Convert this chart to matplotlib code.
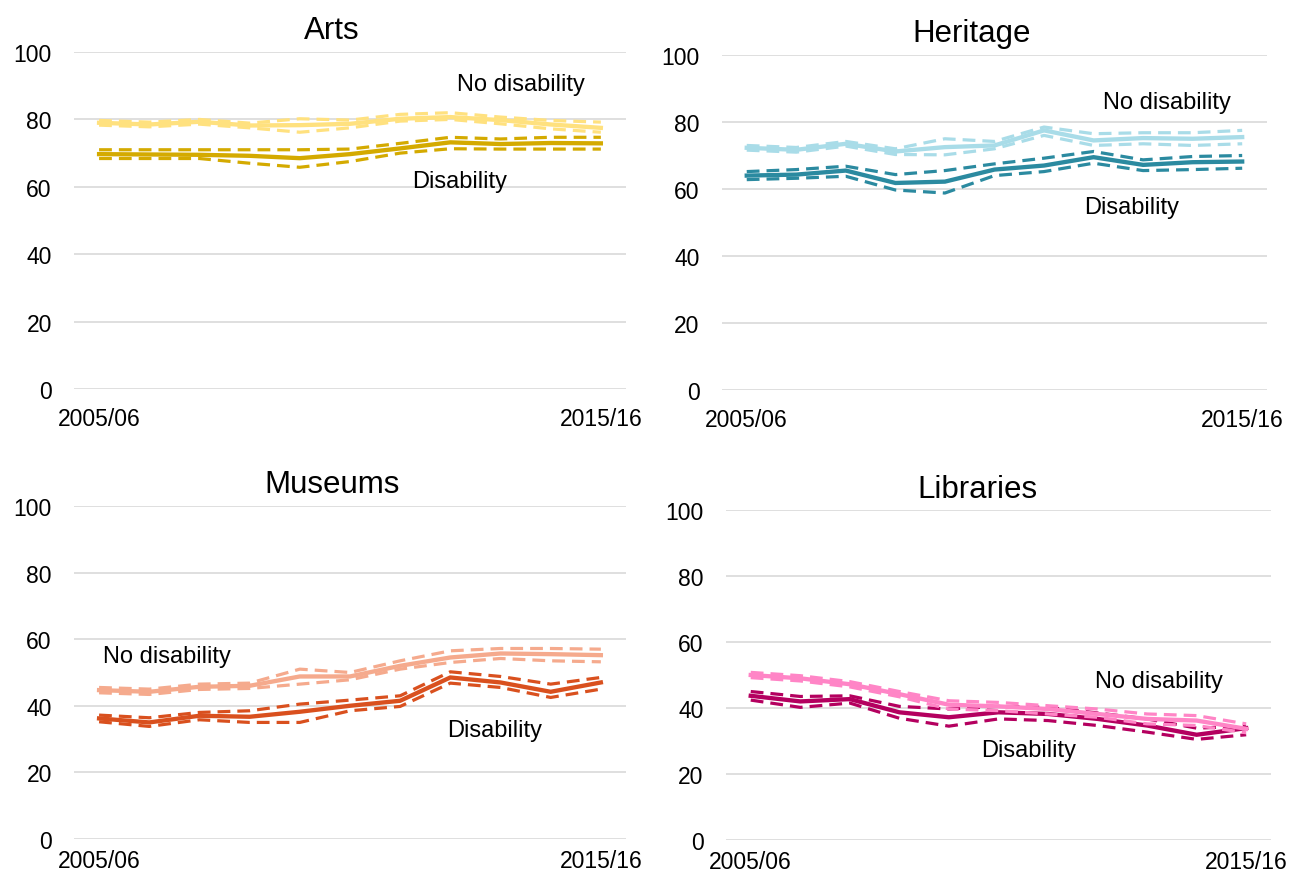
import numpy as np
import matplotlib
matplotlib.use('Agg')
import matplotlib.pyplot as plt

plt.rcParams['font.family'] = ['Liberation Sans', 'DejaVu Sans']

years = ['2005/06', '2006/07', '2007/08', '2008/09', '2009/10', '2010/11',
         '2011/12', '2012/13', '2013/14', '2014/15', '2015/16']

# Arts
arts_nd = [79.0, 78.5, 79.3, 78.2, 78.3, 78.7, 80.2, 80.7, 79.8, 78.5, 77.5]
arts_nd_hi = [79.7, 79.2, 80.0, 78.9, 80.2, 79.8, 81.5, 82.0, 80.7, 79.7, 79.2]
arts_nd_lo = [78.3, 77.8, 78.6, 77.5, 76.2, 77.5, 79.5, 80.0, 78.7, 77.2, 76.2]
arts_d = [69.7, 69.6, 69.5, 69.2, 68.5, 69.7, 71.4, 73.2, 72.7, 73.0, 72.9]
arts_d_hi = [71.0, 71.0, 71.0, 71.0, 71.0, 71.2, 72.9, 74.7, 74.2, 74.7, 74.7]
arts_d_lo = [68.4, 68.4, 68.4, 67.0, 65.8, 67.5, 70.0, 71.3, 71.2, 71.2, 71.2]

# Heritage
her_nd = [72.3, 71.7, 73.5, 71.2, 72.5, 73.0, 77.5, 74.5, 75.2, 75.0, 75.5]
her_nd_hi = [73.0, 72.4, 74.2, 72.0, 75.0, 74.2, 78.5, 76.5, 76.8, 76.8, 77.5]
her_nd_lo = [71.6, 71.0, 72.8, 70.3, 70.2, 72.0, 76.0, 73.0, 73.5, 73.0, 73.5]
her_d = [64.0, 64.3, 65.5, 61.8, 62.2, 65.8, 67.0, 69.5, 67.2, 68.0, 68.2]
her_d_hi = [65.2, 65.8, 66.8, 64.3, 65.5, 67.5, 69.2, 71.2, 68.7, 69.7, 70.0]
her_d_lo = [62.8, 63.2, 63.8, 59.7, 58.8, 64.0, 65.2, 67.7, 65.5, 65.8, 66.2]

# Museums
mus_nd = [44.7, 44.2, 45.7, 46.0, 48.8, 48.8, 52.0, 54.5, 55.7, 55.5, 55.2]
mus_nd_hi = [45.5, 45.0, 46.5, 46.8, 51.0, 50.0, 53.5, 56.5, 57.2, 57.2, 57.0]
mus_nd_lo = [43.9, 43.4, 44.9, 45.2, 46.5, 47.8, 51.0, 53.0, 54.2, 53.5, 53.2]
mus_d = [36.2, 35.0, 37.0, 36.7, 38.2, 40.0, 41.5, 48.5, 47.0, 44.2, 47.0]
mus_d_hi = [37.2, 36.4, 38.0, 38.5, 40.5, 41.7, 43.0, 50.2, 48.8, 46.5, 48.5]
mus_d_lo = [35.2, 33.8, 35.8, 35.0, 35.0, 38.5, 39.8, 46.8, 45.5, 42.5, 45.0]

# Libraries
lib_nd = [50.0, 49.0, 47.2, 44.2, 41.0, 40.5, 39.7, 38.2, 36.7, 36.2, 33.7]
lib_nd_hi = [50.8, 49.8, 48.0, 45.0, 42.2, 41.7, 40.7, 39.7, 38.2, 37.7, 35.2]
lib_nd_lo = [49.2, 48.2, 46.4, 43.4, 39.7, 39.2, 38.2, 37.2, 35.2, 34.7, 32.5]
lib_d = [43.7, 42.0, 42.7, 38.7, 37.2, 38.7, 38.2, 36.7, 34.7, 31.9, 33.9]
lib_d_hi = [45.0, 43.5, 43.7, 40.5, 39.7, 40.5, 40.2, 38.5, 36.7, 33.9, 34.5]
lib_d_lo = [42.4, 40.2, 41.5, 36.9, 34.5, 36.7, 36.2, 34.7, 32.7, 30.5, 31.9]


def draw_panel(ax, title, title_x, nd, nd_lo, nd_hi, d, d_lo, d_hi,
               light, dark, nd_pos, d_pos, xpad=13):
    x = np.arange(len(years))
    # Disability first, no disability on top
    ax.plot(x, d_hi, color=dark, lw=2.3, dashes=(4, 2.2), zorder=3)
    ax.plot(x, d_lo, color=dark, lw=2.3, dashes=(4, 2.2), zorder=3)
    ax.plot(x, d, color=dark, lw=3.1, zorder=4, solid_joinstyle='miter')
    ax.plot(x, nd_hi, color=light, lw=2.3, dashes=(4, 2.2), zorder=5)
    ax.plot(x, nd_lo, color=light, lw=2.3, dashes=(4, 2.2), zorder=5)
    ax.plot(x, nd, color=light, lw=3.1, zorder=6, solid_joinstyle='miter')

    ax.set_xlim(-0.5, len(years) - 0.5)
    ax.set_ylim(0, 100)
    ax.set_yticks([0, 20, 40, 60, 80, 100])
    ax.set_xticks([0, len(years) - 1])
    ax.set_xticklabels([years[0], years[-1]])
    ax.tick_params(axis='both', length=0, labelsize=16.5)
    ax.tick_params(axis='y', pad=16)
    ax.tick_params(axis='x', pad=xpad)
    ax.grid(axis='y', color='#d9d9d9', lw=1.2, zorder=0)
    for s in ax.spines.values():
        s.set_visible(False)

    ax.text(title_x, 1.065, title, transform=ax.transAxes, ha='center',
            va='center', fontsize=22.5)
    ax.text(nd_pos[0], nd_pos[1], 'No disability', ha='center', va='center',
            fontsize=17)
    ax.text(d_pos[0], d_pos[1], 'Disability', ha='center', va='center',
            fontsize=17)


fig = plt.figure(figsize=(12.89, 8.78), dpi=100)
ax1 = fig.add_axes([0.0574, 0.5558, 0.4282, 0.3838])
ax2 = fig.add_axes([0.5601, 0.5547, 0.4228, 0.3815])
ax3 = fig.add_axes([0.0574, 0.0433, 0.4282, 0.3793])
ax4 = fig.add_axes([0.5632, 0.0421, 0.4228, 0.3759])

draw_panel(ax1, 'Arts', 0.467, arts_nd, arts_nd_lo, arts_nd_hi,
           arts_d, arts_d_lo, arts_d_hi, '#ffe17f', '#d4aa00',
           (8.4, 90.5), (7.19, 61.7))
draw_panel(ax2, 'Heritage', 0.458, her_nd, her_nd_lo, her_nd_hi,
           her_d, her_d_lo, her_d_hi, '#a9dce8', '#2b8aa0',
           (8.49, 86.0), (7.76, 54.6))
draw_panel(ax3, 'Museums', 0.467, mus_nd, mus_nd_lo, mus_nd_hi,
           mus_d, mus_d_lo, mus_d_hi, '#f5aa8d', '#d9501e',
           (1.35, 55.0), (7.89, 32.7), xpad=7)
draw_panel(ax4, 'Libraries', 0.462, lib_nd, lib_nd_lo, lib_nd_hi,
           lib_d, lib_d_lo, lib_d_hi, '#ff85c6', '#b4005f',
           (8.23, 48.2), (5.6, 27.3), xpad=7)

fig.savefig('out.png', dpi=100)
